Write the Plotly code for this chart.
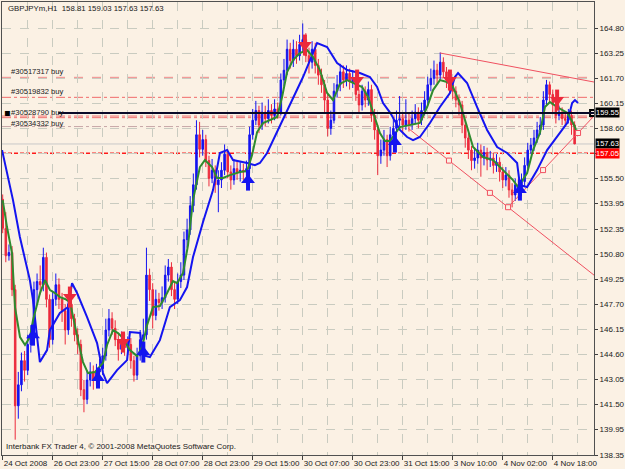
import plotly.graph_objects as go

# ---------------- data ----------------
bar_index = list(range(184))
opens = [154.20,152.40,150.70,150.90,148.60,141.40,142.70,144.20,143.60,145.20,
145.60,148.60,149.10,148.90,150.60,148.00,145.50,148.00,148.90,148.00,
147.30,146.10,147.70,146.80,145.80,145.20,142.40,141.80,143.00,143.50,
143.00,143.50,143.70,144.50,146.10,146.80,146.20,145.50,144.90,145.40,
145.00,145.20,144.20,143.30,144.50,145.50,145.80,149.50,148.60,147.00,
148.00,147.80,148.10,149.50,150.00,148.60,148.00,149.10,149.50,151.70,
152.30,153.80,155.10,158.20,157.30,157.90,156.60,155.50,156.00,155.10,
155.40,156.00,157.00,155.90,155.40,156.10,155.90,156.00,155.90,156.10,
158.20,159.10,159.70,158.80,159.60,159.20,159.70,159.40,159.80,159.60,
161.60,162.20,163.50,162.80,163.50,163.10,163.80,164.10,163.10,162.70,
163.50,162.50,161.90,161.30,160.35,158.60,159.10,160.90,161.30,162.10,
161.60,162.00,161.50,161.70,160.70,160.05,160.90,160.35,161.00,159.40,
158.50,156.90,157.25,157.90,156.90,158.20,158.60,159.10,159.20,158.80,
159.10,158.85,159.20,159.60,159.10,159.70,160.35,161.30,161.70,162.20,
161.90,162.70,162.10,161.60,161.30,160.90,160.35,160.05,158.80,158.00,
157.25,156.60,156.76,157.25,156.76,157.10,156.64,156.76,156.30,156.50,
155.90,155.40,155.70,154.78,154.47,155.10,154.78,155.30,156.30,157.25,
157.56,158.00,158.50,158.80,160.35,161.30,160.70,160.05,159.40,159.60,
159.20,159.10,159.40,158.81]
highs = [154.50,153.40,151.40,151.30,148.90,143.50,144.70,144.80,145.80,146.40,
149.10,149.60,150.10,151.20,150.90,148.30,148.50,149.60,149.30,148.40,
147.70,148.20,148.00,147.10,146.20,145.50,143.00,143.60,144.10,143.90,
144.00,144.30,145.00,146.80,147.40,147.20,146.70,145.90,146.00,145.90,
145.70,145.60,144.50,145.00,146.10,146.80,151.20,149.90,149.00,148.60,
148.40,148.80,150.10,150.50,150.30,149.10,149.60,150.30,152.20,153.00,
154.40,155.80,159.10,159.00,158.50,158.20,156.90,156.70,156.30,156.00,
156.50,157.60,157.30,156.30,156.70,156.60,156.50,156.40,156.60,158.70,
159.80,160.30,160.00,160.20,160.00,160.40,160.10,160.40,160.20,162.00,
162.90,164.10,163.90,164.10,164.00,164.40,165.10,164.50,163.60,164.00,
163.90,162.90,162.30,161.60,160.70,159.70,161.40,161.90,162.60,162.50,
162.50,162.30,162.20,162.00,161.00,161.30,161.20,161.50,161.30,159.80,
158.80,157.90,158.50,158.20,158.70,159.20,159.70,160.60,159.60,160.40,
159.50,159.70,160.10,159.90,160.20,160.90,161.80,162.30,162.80,162.60,
163.30,163.00,162.40,161.90,161.60,161.20,160.70,160.30,159.10,158.30,
157.50,157.40,157.70,157.60,157.50,157.40,157.20,157.10,157.00,156.80,
156.20,156.20,156.00,155.20,155.50,155.50,155.80,156.80,157.70,158.00,
158.50,159.00,159.30,160.90,161.60,161.50,161.00,160.30,160.00,159.90,
159.50,159.80,159.70,159.03]
lows = [152.10,150.30,150.40,148.20,139.30,140.60,142.30,142.90,143.30,144.70,
145.30,147.70,148.30,148.50,147.50,145.00,145.20,147.60,147.40,146.60,
145.20,145.80,146.30,145.40,144.60,142.00,141.00,141.50,142.60,142.40,
142.70,143.00,143.30,144.20,145.70,145.80,145.10,144.20,144.60,144.50,
144.60,143.70,142.90,143.00,144.20,145.00,145.50,147.90,146.20,146.70,
147.30,147.40,147.80,149.10,148.20,147.40,147.70,148.70,149.20,151.20,
152.00,153.40,154.80,156.80,156.90,156.20,155.00,155.20,154.60,153.40,
154.90,155.70,155.50,154.80,155.10,155.40,155.30,155.40,155.10,155.80,
157.90,158.80,158.30,158.50,158.70,158.90,158.90,159.10,159.20,159.40,
161.20,161.90,162.30,162.40,162.60,162.80,163.40,162.70,162.00,162.30,
162.00,161.30,160.80,159.60,158.10,158.20,158.90,160.50,160.90,161.10,
161.20,161.00,161.10,160.30,159.50,159.70,159.90,160.00,159.00,157.90,
155.70,156.40,156.90,156.20,156.60,157.80,158.20,158.70,158.30,158.50,
158.40,158.50,158.90,158.60,158.80,159.40,160.00,160.90,161.30,161.40,
161.60,161.70,161.10,160.80,160.40,159.90,159.40,158.30,157.40,156.70,
156.00,156.10,156.40,155.60,156.30,156.00,156.20,155.80,155.90,155.30,
154.90,155.00,154.30,153.70,154.10,154.20,154.40,155.00,156.00,157.00,
157.20,157.70,158.20,158.50,160.00,160.20,159.60,158.90,159.10,158.80,
158.70,158.90,158.20,157.63]
closes = [152.40,150.70,150.90,148.60,141.40,142.70,144.20,143.60,145.20,145.60,
148.60,149.10,148.90,150.60,148.00,145.50,148.00,148.90,148.00,147.30,
146.10,147.70,146.80,145.80,145.20,142.40,141.80,143.00,143.50,143.00,
143.50,143.70,144.50,146.10,146.80,146.20,145.50,144.90,145.40,145.00,
145.20,144.20,143.30,144.50,145.50,145.80,149.50,148.60,147.00,148.00,
147.80,148.10,149.50,150.00,148.60,148.00,149.10,149.50,151.70,152.30,
153.80,155.10,158.20,157.30,157.90,156.60,155.50,156.00,155.10,155.40,
156.00,157.00,155.90,155.40,156.10,155.90,156.00,155.90,156.10,158.20,
159.10,159.70,158.80,159.60,159.20,159.70,159.40,159.80,159.60,161.60,
162.20,163.50,162.80,163.50,163.10,163.80,164.10,163.10,162.70,163.50,
162.50,161.90,161.30,160.35,158.60,159.10,160.90,161.30,162.10,161.60,
162.00,161.50,161.70,160.70,160.05,160.90,160.35,161.00,159.40,158.50,
156.90,157.25,157.90,156.90,158.20,158.60,159.10,159.20,158.80,159.10,
158.85,159.20,159.60,159.10,159.70,160.35,161.30,161.70,162.20,161.90,
162.70,162.10,161.60,161.30,160.90,160.35,160.05,158.80,158.00,157.25,
156.60,156.76,157.25,156.76,157.10,156.64,156.76,156.30,156.50,155.90,
155.40,155.70,154.78,154.47,155.10,154.78,155.30,156.30,157.25,157.56,
158.00,158.50,158.80,160.35,161.30,160.70,160.05,159.40,159.60,159.20,
159.10,159.40,158.81,157.63]

# fast moving average (green)
green_x = [0,1.38,2.98,3.94,5.54,7.14,8.74,9.7,11.94,13.54,15.14,16.74,18.34,19.94,21.54,22.5,
24.1,25.7,27.3,29.5,32.1,33.4,35.3,36.9,38.5,40.7,43.0,44.6,46.2,48.1,50.3,52.6,54.5,55.8,
57.7,59.3,60.9,63.1,64.7,67.0,68.6,70.5,72.7,75.9,78.2,79.8,81.4,83.3,85.5,87.8,89.4,91.0,
92.9,95.1,97.4,99.3,101.5,103.8,105.7,107.9,110.2,112.1,115.0,116.9,118.5,120.7,122.3,123.9,
127.1,130.3,133.5,135.8,137.7,139.9,142.2,144.1,146.3,148.6,150.5,153.7,156.9,160.1,163.3,
164.9,167.8,169.7,171.9,173.5,175.1,177.4,180.6,182.5,183.5]
green_y = [154.15,152.48,150.87,147.52,145.66,145.17,145.66,146.71,148.39,149.19,148.57,148.39,
148.14,148.02,147.83,147.02,145.47,144.11,143.43,143.49,144.06,145.17,146.09,145.91,145.60,
144.85,144.48,145.04,146.40,147.52,147.58,148.39,149.13,149.00,149.63,151.36,154.15,156.20,
156.63,156.20,155.52,155.52,155.70,155.89,155.95,156.94,158.37,158.93,159.11,159.30,160.54,
162.09,162.83,163.27,163.45,163.02,162.21,160.79,160.35,161.35,161.59,161.41,161.16,160.54,
159.56,158.31,157.81,157.81,158.68,158.80,158.93,159.92,160.97,161.59,161.47,161.16,160.17,
158.68,157.44,156.82,156.63,156.01,155.39,154.96,155.83,157.25,158.31,159.92,160.23,159.92,
159.56,158.93,158.50]

# slow moving average (blue)
blue_x = [-0.2,3.3,5.5,8.7,9.7,11.0,11.9,14.2,15.1,18.3,20.9,22.2,23.8,27.0,30.2,32.1,33.4,
36.6,39.8,40.7,44.0,44.9,47.1,50.3,53.5,56.7,59.0,60.9,64.1,67.3,69.5,71.8,73.7,78.2,80.7,
82.3,84.6,96.1,100.6,103.8,107.0,110.2,114.3,117.5,119.8,121.7,124.0,127.1,129.4,131.3,
133.5,136.7,139.9,143.1,144.7,145.7,148.6,151.8,155.0,158.2,161.4,164.6,165.5,167.8,171.0,
174.2,177.4,180.6,182.2,183.1,184.1]
blue_y = [157.25,154.15,151.86,149.19,147.95,145.47,144.11,144.85,146.09,147.15,147.52,149.00,
148.39,146.90,145.29,143.43,142.81,143.61,144.23,145.97,145.91,144.54,144.42,145.47,147.52,
147.95,148.76,150.62,152.79,154.77,157.07,157.25,156.63,156.45,156.32,156.45,157.07,161.78,
163.89,163.64,162.65,162.21,162.03,161.78,161.16,160.17,159.56,158.50,158.06,157.87,158.06,
158.93,159.92,160.79,161.78,162.03,161.41,159.92,158.50,157.44,157.07,156.45,155.08,154.96,
156.01,157.25,158.06,158.93,160.17,160.35,160.17]

# signal arrows
buy_x = [9.7, 30.5, 45.0, 78.5, 125.5, 165.5]
buy_y = [145.78, 143.12, 144.73, 155.39, 157.75, 154.77]
sell_x = [21.5, 38.5, 96.7, 113.4, 143.1, 177.4]
sell_y = [148.14, 145.35, 163.76, 161.59, 161.59, 160.35]

# trend lines
upper_x = [139.9, 189.2]
upper_y = [163.27, 161.47]
lower_x = [129.7, 142.8, 155.9, 161.7, 189.2]
lower_y = [158.61, 156.60, 154.60, 153.71, 149.50]
lower_mark = [False, True, True, True, False]
rise_x = [161.7, 172.9, 184.1, 188.9]
rise_y = [153.71, 156.01, 158.31, 159.30]
rise_mark = [False, True, True, False]

# order / level lines
order_labels = ["#30517317 buy", "#30519832 buy", "#30528790 buy", "#30534332 buy"]
order_label_y = [162.12, 160.88, 159.60, 158.92]
level_prices = [161.76, 160.52, 159.36, 159.26, 158.71]
level_colors = ["#F08A8A", "#F06A6A", "#F07070", "#F07070", "#C8A8A8"]
level_dash = ["dash", "dashdot", "dashdot", "dashdot", "dashdot"]
hline_price = 159.55
bid_price = 157.63
stop_price = 157.05

x_tick_vals = [0, 16, 32, 48, 64, 80, 96, 112, 128, 144, 160, 176]
x_tick_text = ["24 Oct 2008", "26 Oct 23:00", "27 Oct 15:00", "28 Oct 07:00", "28 Oct 23:00",
               "29 Oct 15:00", "30 Oct 07:00", "30 Oct 23:00", "31 Oct 15:00", "3 Nov 10:00",
               "4 Nov 02:00", "4 Nov 18:00"]
y_tick_vals = [138.35, 139.95, 141.50, 143.05, 144.60, 146.15, 147.70, 149.25, 150.80, 152.35,
               153.95, 155.50, 157.05, 158.60, 160.15, 161.70, 163.25, 164.80]
# the 157.05 tick is covered by the red price box, so its axis text is left empty
y_tick_text = ["" if v == stop_price else "%.2f" % v for v in y_tick_vals]

title_text = "GBPJPYm,H1  158.81 159.03 157.63 157.63"
footer_text = "Interbank FX Trader 4, \u00a9 2001-2008 MetaQuotes Software Corp."

# ---------------- style ----------------
BG = "#FBF1E4"
GRID = "#C9CBC0"
BLUE = "#1414F0"
RED = "#EC2A3C"
GREEN = "#2E8B2E"
TREND = "#F05060"
FONT = "Liberation Sans"

fig = go.Figure()

fig.add_trace(go.Scatter(x=upper_x, y=upper_y, mode="lines", line=dict(color=TREND, width=1), hoverinfo="skip"))
fig.add_trace(go.Scatter(x=lower_x, y=lower_y, mode="lines", line=dict(color=TREND, width=1), hoverinfo="skip"))
fig.add_trace(go.Scatter(x=rise_x, y=rise_y, mode="lines", line=dict(color=TREND, width=1), hoverinfo="skip"))
fig.add_trace(go.Scatter(x=[x for x, m in zip(lower_x, lower_mark) if m] + [x for x, m in zip(rise_x, rise_mark) if m],
                         y=[y for y, m in zip(lower_y, lower_mark) if m] + [y for y, m in zip(rise_y, rise_mark) if m],
                         mode="markers", marker=dict(symbol="square", size=5, color=BG, line=dict(color=TREND, width=1)),
                         hoverinfo="skip"))

fig.add_trace(go.Candlestick(
    x=bar_index, open=opens, high=highs, low=lows, close=closes,
    increasing=dict(line=dict(color=BLUE, width=1), fillcolor=BLUE),
    decreasing=dict(line=dict(color=RED, width=1), fillcolor=RED),
    whiskerwidth=0, hoverinfo="skip"))

fig.add_trace(go.Scatter(x=blue_x, y=blue_y, mode="lines", line=dict(color=BLUE, width=2), hoverinfo="skip"))
fig.add_trace(go.Scatter(x=green_x, y=green_y, mode="lines", line=dict(color=GREEN, width=2), hoverinfo="skip"))

# arrows: head + stem
fig.add_trace(go.Scatter(x=buy_x, y=buy_y, mode="markers", marker=dict(symbol="triangle-up", size=12, color=BLUE, line=dict(width=0)),
                         hoverinfo="skip"))
fig.add_trace(go.Scatter(x=buy_x, y=buy_y, mode="markers", marker=dict(symbol="line-ns", size=15, color=BLUE, line=dict(color=BLUE, width=4)),
                         hoverinfo="skip"))
fig.add_trace(go.Scatter(x=sell_x, y=sell_y, mode="markers", marker=dict(symbol="triangle-down", size=12, color=RED, line=dict(width=0)),
                         hoverinfo="skip"))
fig.add_trace(go.Scatter(x=sell_x, y=sell_y, mode="markers", marker=dict(symbol="line-ns", size=15, color=RED, line=dict(color=RED, width=4)),
                         hoverinfo="skip"))

# end marker of the black line
fig.add_trace(go.Scatter(x=[188.9], y=[hline_price], mode="markers",
                         marker=dict(symbol="square", size=6, color=BG, line=dict(color="#000000", width=2)), hoverinfo="skip"))

shapes = []
for p, c, d in zip(level_prices, level_colors, level_dash):
    shapes.append(dict(type="line", xref="paper", yref="y", x0=0, x1=1, y0=p, y1=p,
                       line=dict(color=c, width=1, dash=d), layer="below"))
shapes.append(dict(type="line", xref="paper", yref="y", x0=0, x1=1, y0=bid_price, y1=bid_price,
                   line=dict(color="#C8C8C8", width=1), layer="below"))
shapes.append(dict(type="line", xref="paper", yref="y", x0=0, x1=1, y0=stop_price, y1=stop_price,
                   line=dict(color="#FF1A1A", width=1.5, dash="4px,2px"), layer="below"))
shapes.append(dict(type="line", xref="paper", yref="y", x0=0.095, x1=1, y0=hline_price, y1=hline_price,
                   line=dict(color="#0A0A28", width=2)))
fig.update_layout(shapes=shapes)

ann = []
for t, y in zip(order_labels, order_label_y):
    ann.append(dict(xref="paper", yref="y", x=0.011, y=y, text=t, showarrow=False, xanchor="left",
                    yanchor="middle", font=dict(family=FONT, size=7.6, color="#202020")))
ann.append(dict(xref="paper", yref="y", x=0.0, y=hline_price, text="\u25aa", showarrow=False, xanchor="left",
                yanchor="middle", font=dict(family="DejaVu Sans", size=10, color="#000000")))
ann.append(dict(xref="paper", yref="paper", x=0.006, y=0.999, text=title_text, showarrow=False, xanchor="left",
                yanchor="top", font=dict(family=FONT, size=7.8, color="#202020")))
ann.append(dict(xref="paper", yref="paper", x=0.004, y=0.004, text=footer_text, showarrow=False, xanchor="left",
                yanchor="bottom", font=dict(family=FONT, size=8, color="#202020")))
for val, bgc in [(hline_price, "#000000"), (bid_price, "#000000"), (stop_price, "#FF0000")]:
    ann.append(dict(xref="paper", yref="y", x=1, y=val, text="%.2f" % val, showarrow=False, xanchor="left",
                    yanchor="middle", xshift=1, bgcolor=bgc, borderpad=0,
                    font=dict(family=FONT, size=7.5, color="#FFFFFF")))
fig.update_layout(annotations=ann)

fig.update_layout(
    width=625, height=469, margin=dict(l=2, r=31, t=2, b=14, autoexpand=False),
    paper_bgcolor=BG, plot_bgcolor=BG, showlegend=False,
    xaxis=dict(range=[-0.22, 189.2], tickmode="array", tickvals=x_tick_vals, ticktext=x_tick_text,
               tickangle=0, automargin=False,
               ticks="outside", ticklen=4, tickcolor="#404040", ticklabelposition="outside right",
               showgrid=True, gridcolor=GRID, griddash="dash", gridwidth=1,
               minor=dict(dtick=8, tick0=0, showgrid=True, gridcolor=GRID, griddash="dash", ticks=""),
               showline=True, linecolor="#505050", linewidth=1, mirror=True, zeroline=False,
               rangeslider=dict(visible=False), tickfont=dict(family=FONT, size=8, color="#202020")),
    yaxis=dict(range=[138.35, 166.43], side="right", tickmode="array", tickvals=y_tick_vals, ticktext=y_tick_text,
               automargin=False,
               ticks="outside", ticklen=3, tickcolor="#404040",
               showgrid=True, gridcolor=GRID, griddash="dash", gridwidth=1,
               showline=True, linecolor="#505050", linewidth=1, mirror=True, zeroline=False,
               tickfont=dict(family=FONT, size=8, color="#202020")),
)

fig.write_html("out.html")
